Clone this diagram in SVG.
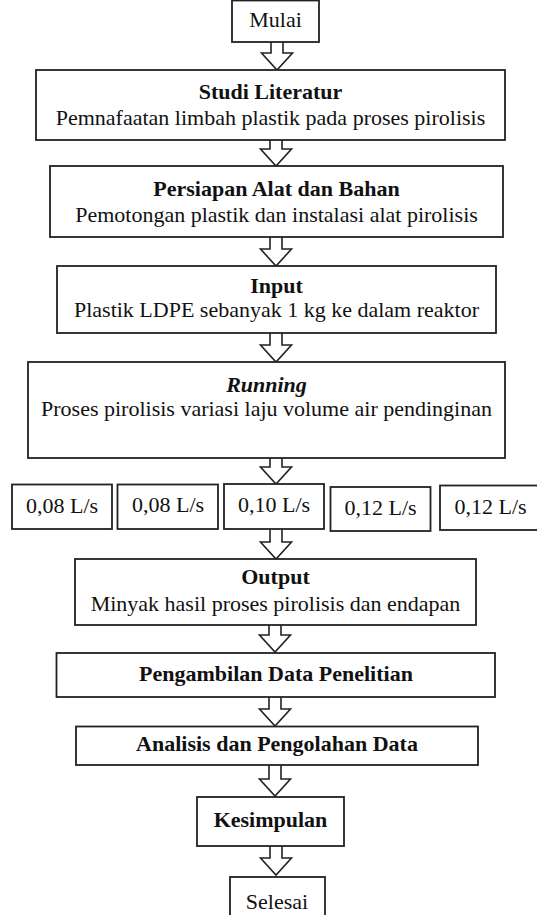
<svg xmlns="http://www.w3.org/2000/svg" width="537" height="915" viewBox="0 0 537 915">
  <style>
    .box { fill: #ffffff; stroke: #222222; stroke-width: 1.8; }
    .arrow { fill: #ffffff; stroke: #222222; stroke-width: 1.6; stroke-linejoin: miter; }
    .title { font-weight: bold; }
    .italic { font-style: italic; }
  </style>
  <rect x="0" y="0" width="537" height="915" fill="#ffffff"/>

  <!-- block arrows between steps -->
  <g id="connectors">
    <path class="arrow" d="M271,42 V53 H261.5 L277,70 L292.5,53 H283 V42"/>
    <path class="arrow" d="M270,140 V149 H260.5 L276,166 L291.5,149 H282 V140"/>
    <path class="arrow" d="M270,237 V249 H260.5 L276,266 L291.5,249 H282 V237"/>
    <path class="arrow" d="M270,333 V345 H260.5 L276,362 L291.5,345 H282 V333"/>
    <path class="arrow" d="M270,458 V467 H260.5 L276,484 L291.5,467 H282 V458"/>
    <path class="arrow" d="M270,529 V542 H260.5 L276,559 L291.5,542 H282 V529"/>
    <path class="arrow" d="M269,625 V635 H259.5 L275,652 L290.5,635 H281 V625"/>
    <path class="arrow" d="M269,697 V709 H259.5 L275,726 L290.5,709 H281 V697"/>
    <path class="arrow" d="M269,765 V779 H259.5 L275,796 L290.5,779 H281 V765"/>
    <path class="arrow" d="M270,846 V858 H260.5 L276,875 L291.5,858 H282 V846"/>
  </g>

  <g font-family="Liberation Serif, Times New Roman, serif" font-size="22" fill="#111111" text-anchor="middle">
  <g id="mulai">
    <rect class="box" x="232" y="0.5" width="87" height="41.5"/>
    <text x="275.5" y="27">Mulai</text>
  </g>

  <g id="studi-literatur">
    <rect class="box" x="36" y="70" width="469" height="70"/>
    <text class="title" x="270.5" y="99">Studi Literatur</text>
    <text x="270.5" y="125">Pemnafaatan limbah plastik pada proses pirolisis</text>
  </g>

  <g id="persiapan">
    <rect class="box" x="50" y="166" width="453" height="71"/>
    <text class="title" x="276.5" y="196">Persiapan Alat dan Bahan</text>
    <text x="276.5" y="222">Pemotongan plastik dan instalasi alat pirolisis</text>
  </g>

  <g id="input">
    <rect class="box" x="57" y="266" width="439" height="67"/>
    <text class="title" x="276.5" y="293">Input</text>
    <text x="276.5" y="317">Plastik LDPE sebanyak 1 kg ke dalam reaktor</text>
  </g>

  <g id="running">
    <rect class="box" x="28" y="362" width="477" height="96"/>
    <text class="title italic" x="266.5" y="392">Running</text>
    <text x="266.5" y="416">Proses pirolisis variasi laju volume air pendinginan</text>
  </g>

  <g id="laju-1">
    <rect class="box" x="12" y="484.5" width="100" height="44.5"/>
    <text x="62" y="513">0,08 L/s</text>
  </g>
  <g id="laju-2">
    <rect class="box" x="117.5" y="484.5" width="100.5" height="44.5"/>
    <text x="168" y="512">0,08 L/s</text>
  </g>
  <g id="laju-3">
    <rect class="box" x="224" y="484" width="100" height="45"/>
    <text x="274" y="512">0,10 L/s</text>
  </g>
  <g id="laju-4">
    <rect class="box" x="330.5" y="487" width="100" height="44"/>
    <text x="380.5" y="515">0,12 L/s</text>
  </g>
  <g id="laju-5">
    <rect class="box" x="440" y="485.5" width="102" height="44.5"/>
    <text x="490.5" y="514">0,12 L/s</text>
  </g>

  <g id="output">
    <rect class="box" x="75" y="559" width="401" height="66"/>
    <text class="title" x="275.5" y="584">Output</text>
    <text x="275.5" y="611">Minyak hasil proses pirolisis dan endapan</text>
  </g>

  <g id="pengambilan-data">
    <rect class="box" x="56.5" y="653" width="438.5" height="44"/>
    <text class="title" x="276" y="681">Pengambilan Data Penelitian</text>
  </g>

  <g id="analisis">
    <rect class="box" x="76" y="726.5" width="402" height="38.5"/>
    <text class="title" x="277" y="751">Analisis dan Pengolahan Data</text>
  </g>

  <g id="kesimpulan">
    <rect class="box" x="197" y="797" width="147" height="49"/>
    <text class="title" x="270.5" y="827">Kesimpulan</text>
  </g>

  <g id="selesai">
    <rect class="box" x="230" y="877" width="95" height="45"/>
    <text x="277" y="909">Selesai</text>
  </g>
  </g>
</svg>
